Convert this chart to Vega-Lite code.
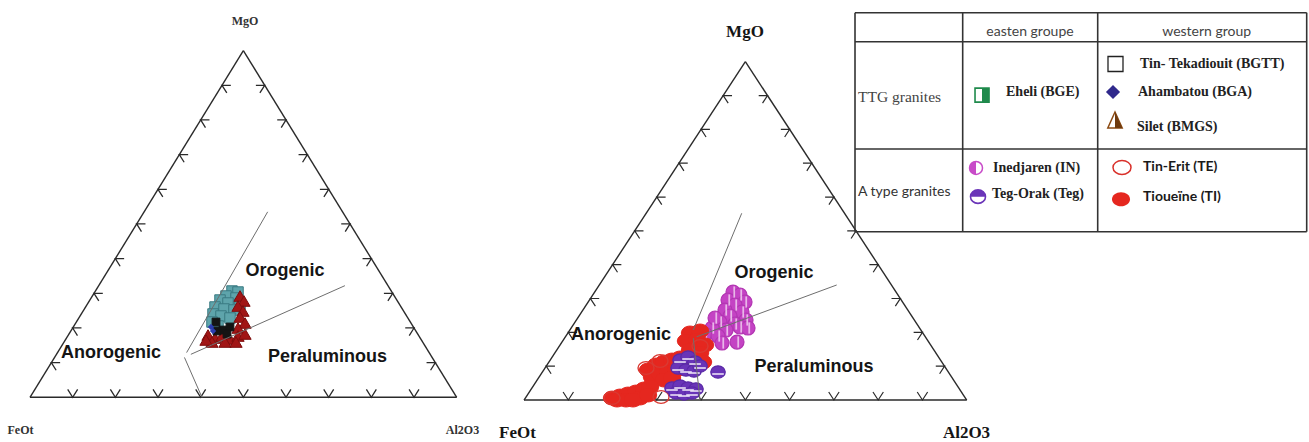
{
"$schema":"https://vega.github.io/schema/vega-lite/v6.json",
"width":1309,"height":442,"padding":0,
"autosize":{"type":"fit","contains":"padding"},
"background":"white",
"config":{"view":{"stroke":null}},
"datasets":{
"edges":[{"x":0,"y":0,"x2":1,"y2":0},{"x":0,"y":0,"x2":0.5,"y2":1},{"x":1,"y":0,"x2":0.5,"y2":1}],
"ticks":[
{"edge":"b","x":0.1,"y":0},{"edge":"b","x":0.2,"y":0},{"edge":"b","x":0.3,"y":0},{"edge":"b","x":0.4,"y":0},{"edge":"b","x":0.5,"y":0},{"edge":"b","x":0.6,"y":0},{"edge":"b","x":0.7,"y":0},{"edge":"b","x":0.8,"y":0},{"edge":"b","x":0.9,"y":0},
{"edge":"l","x":0.05,"y":0.1},{"edge":"l","x":0.1,"y":0.2},{"edge":"l","x":0.15,"y":0.3},{"edge":"l","x":0.2,"y":0.4},{"edge":"l","x":0.25,"y":0.5},{"edge":"l","x":0.3,"y":0.6},{"edge":"l","x":0.35,"y":0.7},{"edge":"l","x":0.4,"y":0.8},{"edge":"l","x":0.45,"y":0.9},
{"edge":"r","x":0.95,"y":0.1},{"edge":"r","x":0.9,"y":0.2},{"edge":"r","x":0.85,"y":0.3},{"edge":"r","x":0.8,"y":0.4},{"edge":"r","x":0.75,"y":0.5},{"edge":"r","x":0.7,"y":0.6},{"edge":"r","x":0.65,"y":0.7},{"edge":"r","x":0.6,"y":0.8},{"edge":"r","x":0.55,"y":0.9}],
"lbound":[{"x":0.367,"y":0.129,"x2":0.557,"y2":0.535},{"x":0.377,"y":0.124,"x2":0.738,"y2":0.322},{"x":0.362,"y":0.115,"x2":0.403,"y2":0.0}],
"rbound":[{"x":0.3824,"y":0.207,"x2":0.4918,"y2":0.552},{"x":0.390,"y":0.187,"x2":0.7063,"y2":0.340},{"x":0.3824,"y":0.183,"x2":0.3976,"y2":0.0}],
"llab":[
{"label":"Orogenic","x":0.5976,"y":0.3643,"kind":"region"},
{"label":"Anorogenic","x":0.1898,"y":0.1278,"kind":"region"},
{"label":"Peraluminous","x":0.6972,"y":0.1162,"kind":"region"},
{"label":"MgO","x":0.5039,"y":1.0854,"kind":"corner"},
{"label":"FeOt","x":-0.0223,"y":-0.0943,"kind":"corner"},
{"label":"Al2O3","x":1.0136,"y":-0.0943,"kind":"corner"}],
"rlab":[
{"label":"Orogenic","x":0.5647,"y":0.3745,"kind":"region"},
{"label":"Anorogenic","x":0.2191,"y":0.1921,"kind":"region"},
{"label":"Peraluminous","x":0.6551,"y":0.0975,"kind":"region"},
{"label":"MgO","x":0.4992,"y":1.0878,"kind":"corner"},
{"label":"FeOt","x":-0.0147,"y":-0.0976,"kind":"corner"},
{"label":"Al2O3","x":0.9995,"y":-0.0976,"kind":"corner"}],
"lpts":[
{"unit":"BGE","x":0.4734,"y":0.3066},{"unit":"BGE","x":0.4875,"y":0.3037},{"unit":"BGE","x":0.4593,"y":0.2922},{"unit":"BGE","x":0.4828,"y":0.2864},{"unit":"BGE","x":0.4453,"y":0.2806},{"unit":"BGE","x":0.4640,"y":0.2720},{"unit":"BGE","x":0.4922,"y":0.2691},{"unit":"BGE","x":0.4336,"y":0.2605},{"unit":"BGE","x":0.4547,"y":0.2547},{"unit":"BGE","x":0.4781,"y":0.2518},{"unit":"BGE","x":0.4289,"y":0.2403},{"unit":"BGE","x":0.4476,"y":0.2345},{"unit":"BGE","x":0.4687,"y":0.2287},{"unit":"BGE","x":0.4265,"y":0.2172},{"unit":"BGE","x":0.4406,"y":0.2056},
{"unit":"BMGS","x":0.4922,"y":0.2922},{"unit":"BMGS","x":0.5015,"y":0.2778},{"unit":"BMGS","x":0.4875,"y":0.2633},{"unit":"BMGS","x":0.4992,"y":0.2489},{"unit":"BMGS","x":0.4922,"y":0.2316},{"unit":"BMGS","x":0.5039,"y":0.2143},{"unit":"BMGS","x":0.4875,"y":0.1999},{"unit":"BMGS","x":0.4172,"y":0.1797},{"unit":"BMGS","x":0.4336,"y":0.1710},{"unit":"BMGS","x":0.4500,"y":0.1768},{"unit":"BMGS","x":0.4687,"y":0.1682},{"unit":"BMGS","x":0.4875,"y":0.1768},{"unit":"BMGS","x":0.5039,"y":0.1826},{"unit":"BMGS","x":0.4265,"y":0.1595},{"unit":"BMGS","x":0.4570,"y":0.1595},{"unit":"BMGS","x":0.4828,"y":0.1595},{"unit":"BMGS","x":0.4125,"y":0.1653},
{"unit":"BGTT","x":0.4359,"y":0.2172},{"unit":"BGTT","x":0.4523,"y":0.1941},{"unit":"BGTT","x":0.4687,"y":0.2028},{"unit":"BGTT","x":0.4382,"y":0.1912},{"unit":"BGTT","x":0.4617,"y":0.1826},
{"unit":"BGA","x":0.4242,"y":0.2028},{"unit":"BGA","x":0.4289,"y":0.1912}],
"rpts":[
{"unit":"IN","x":0.4721,"y":0.3192},{"unit":"IN","x":0.4879,"y":0.3104},{"unit":"IN","x":0.4608,"y":0.2956},{"unit":"IN","x":0.4992,"y":0.2897},{"unit":"IN","x":0.4766,"y":0.2808},{"unit":"IN","x":0.4540,"y":0.2660},{"unit":"IN","x":0.4924,"y":0.2601},{"unit":"IN","x":0.4653,"y":0.2483},{"unit":"IN","x":0.5015,"y":0.2365},{"unit":"IN","x":0.4427,"y":0.2306},{"unit":"IN","x":0.4766,"y":0.2247},{"unit":"IN","x":0.4247,"y":0.2128},{"unit":"IN","x":0.4563,"y":0.2069},{"unit":"IN","x":0.4879,"y":0.2158},{"unit":"IN","x":0.4089,"y":0.1951},{"unit":"IN","x":0.4382,"y":0.1892},{"unit":"IN","x":0.3976,"y":0.1774},{"unit":"IN","x":0.4473,"y":0.1685},{"unit":"IN","x":0.4811,"y":0.1714},{"unit":"IN","x":0.5060,"y":0.2128},{"unit":"IN","x":0.4315,"y":0.2424},
{"unit":"TI","x":0.3750,"y":0.1981},{"unit":"TI","x":0.3976,"y":0.2040},{"unit":"TI","x":0.3659,"y":0.1744},{"unit":"TI","x":0.3908,"y":0.1774},{"unit":"TI","x":0.4089,"y":0.1626},{"unit":"TI","x":0.3750,"y":0.1478},{"unit":"TI","x":0.3976,"y":0.1389},{"unit":"TI","x":0.3818,"y":0.1182},{"unit":"TI","x":0.4043,"y":0.1123},
{"unit":"TI","x":0.2801,"y":0.0887},{"unit":"TI","x":0.2982,"y":0.1035},{"unit":"TI","x":0.3162,"y":0.1123},{"unit":"TI","x":0.3343,"y":0.1182},{"unit":"TI","x":0.3524,"y":0.1242},{"unit":"TI","x":0.2891,"y":0.0680},{"unit":"TI","x":0.3072,"y":0.0769},{"unit":"TI","x":0.3253,"y":0.0828},{"unit":"TI","x":0.3434,"y":0.0887},{"unit":"TI","x":0.3614,"y":0.0946},{"unit":"TI","x":0.3162,"y":0.0591},{"unit":"TI","x":0.3343,"y":0.0650},
{"unit":"TI","x":0.1988,"y":0.0059},{"unit":"TI","x":0.2169,"y":0.0118},{"unit":"TI","x":0.2349,"y":0.0177},{"unit":"TI","x":0.2530,"y":0.0236},{"unit":"TI","x":0.2711,"y":0.0325},{"unit":"TI","x":0.2846,"y":0.0384},{"unit":"TI","x":0.2304,"y":0.0},{"unit":"TI","x":0.2620,"y":0.0059},{"unit":"TI","x":0.2101,"y":0.0},{"unit":"TI","x":0.2462,"y":0.0},{"unit":"TI","x":0.2801,"y":0.0148},
{"unit":"TE","x":0.2756,"y":0.0946},{"unit":"TE","x":0.3095,"y":0.0089},{"unit":"TE","x":0.1988,"y":0.0059},{"unit":"TE","x":0.3976,"y":0.1596},{"unit":"TE","x":0.3072,"y":0.1153},
{"unit":"Teg","x":0.3524,"y":0.1182},{"unit":"Teg","x":0.3705,"y":0.1271},{"unit":"Teg","x":0.3863,"y":0.1123},{"unit":"Teg","x":0.3479,"y":0.0946},{"unit":"Teg","x":0.3659,"y":0.0887},{"unit":"Teg","x":0.3840,"y":0.0857},{"unit":"Teg","x":0.3976,"y":0.1005},{"unit":"Teg","x":0.3343,"y":0.0355},{"unit":"Teg","x":0.3524,"y":0.0414},{"unit":"Teg","x":0.3705,"y":0.0355},{"unit":"Teg","x":0.3885,"y":0.0325},{"unit":"Teg","x":0.3434,"y":0.0207},{"unit":"Teg","x":0.3614,"y":0.0177},{"unit":"Teg","x":0.3795,"y":0.0207},{"unit":"Teg","x":0.4382,"y":0.0828}],
"tlines":[
{"x":0,"y":0,"x2":100,"y2":0},{"x":0,"y":100,"x2":100,"y2":100},{"x":0,"y":0,"x2":0,"y2":100},{"x":100,"y":0,"x2":100,"y2":100},
{"x":23.84,"y":0,"x2":23.84,"y2":100},{"x":53.73,"y":0,"x2":53.73,"y2":100},
{"x":0,"y":13.24,"x2":100,"y2":13.24},{"x":0,"y":62.24,"x2":100,"y2":62.24}],
"tlabels":[
{"label":"easten groupe","x":38.74,"y":8.68,"kind":"head"},
{"label":"western group","x":77.86,"y":8.68,"kind":"head"},
{"label":"TTG granites","x":0.66,"y":38.36,"kind":"serif"},
{"label":"A type granites","x":0.66,"y":82.0,"kind":"sans"}],
"legicons":[
{"unit":"BGE","x":28.12,"y":37.63},{"unit":"BGTT","x":57.67,"y":23.42},{"unit":"BGA","x":57.12,"y":36.2},{"unit":"BMGS","x":57.56,"y":49.0},
{"unit":"IN","x":26.79,"y":70.9},{"unit":"Teg","x":27.23,"y":84.0},{"unit":"TE","x":59.11,"y":70.68},{"unit":"TI","x":58.89,"y":85.2}],
"leglabels":[
{"unit":"BGE","label":"Eheli (BGE)","x":33.43,"y":36.07,"font":"serif"},
{"unit":"BGTT","label":"Tin- Tekadiouit (BGTT)","x":63.1,"y":23.5,"font":"serif"},
{"unit":"BGA","label":"Ahambatou (BGA)","x":62.65,"y":36.2,"font":"serif"},
{"unit":"BMGS","label":"Silet (BMGS)","x":62.43,"y":52.05,"font":"serif"},
{"unit":"IN","label":"Inedjaren (IN)","x":30.55,"y":70.78,"font":"serif"},
{"unit":"Teg","label":"Teg-Orak (Teg)","x":30.33,"y":82.92,"font":"serif"},
{"unit":"TE","label":"Tin-Erit (TE)","x":63.76,"y":70.46,"font":"sans"},
{"unit":"TI","label":"Tioueïne (TI)","x":63.76,"y":84.16,"font":"sans"}]
},
"resolve":{"scale":{"x":"independent","y":"independent"}},
"layer":[
{
"encoding":{
"x":{"field":"x","type":"quantitative","scale":{"domain":[-0.0703,2.9974],"nice":false,"zero":false},"axis":null},
"y":{"field":"y","type":"quantitative","scale":{"domain":[-0.1289,1.146],"nice":false,"zero":false},"axis":null}},
"layer":[
{"data":{"name":"edges"},"mark":{"type":"rule","color":"#2a2a2a","strokeWidth":1.4},"encoding":{"x2":{"field":"x2"},"y2":{"field":"y2"}}},
{"data":{"name":"ticks"},"transform":[{"filter":"datum.edge=='b'"}],"mark":{"type":"point","shape":"M-0.62,-1L0,0L0.62,-1","size":256,"filled":false,"stroke":"#2a2a2a","strokeWidth":1.3,"opacity":1}},
{"data":{"name":"ticks"},"transform":[{"filter":"datum.edge=='l'"}],"mark":{"type":"point","shape":"M1.1,0L0,0L0.6,0.95","size":256,"filled":false,"stroke":"#2a2a2a","strokeWidth":1.3,"opacity":1}},
{"data":{"name":"ticks"},"transform":[{"filter":"datum.edge=='r'"}],"mark":{"type":"point","shape":"M-1.1,0L0,0L-0.6,0.95","size":256,"filled":false,"stroke":"#2a2a2a","strokeWidth":1.3,"opacity":1}},
{"data":{"name":"lpts"},"transform":[{"filter":"datum.unit=='BGE'"}],"mark":{"type":"point","shape":"square","size":110,"filled":true,"fill":"#5ea4ab","stroke":"#3a7a82","strokeWidth":1,"opacity":1}},
{"data":{"name":"lpts"},"transform":[{"filter":"datum.unit=='BMGS'"}],"mark":{"type":"point","shape":"triangle-up","size":150,"filled":true,"fill":"#a11515","stroke":"#7e0d0d","strokeWidth":1,"opacity":1}},
{"data":{"name":"lpts"},"transform":[{"filter":"datum.unit=='BGTT'"}],"mark":{"type":"point","shape":"square","size":60,"filled":true,"fill":"#141414","stroke":"#141414","strokeWidth":1,"opacity":1}},
{"data":{"name":"lpts"},"transform":[{"filter":"datum.unit=='BGA'"}],"mark":{"type":"point","shape":"diamond","size":40,"filled":true,"fill":"#2b3cb0","opacity":1}},
{"data":{"name":"lbound"},"mark":{"type":"rule","color":"#6e6e6e","strokeWidth":1},"encoding":{"x2":{"field":"x2"},"y2":{"field":"y2"}}},
{"data":{"name":"llab"},"transform":[{"filter":"datum.kind=='region'"}],"mark":{"type":"text","font":"Liberation Sans","fontWeight":"bold","fontSize":18,"align":"center","baseline":"middle","color":"#151515"},"encoding":{"text":{"field":"label"}}},
{"data":{"name":"llab"},"transform":[{"filter":"datum.kind=='corner'"}],"mark":{"type":"text","font":"Liberation Serif","fontWeight":"bold","fontSize":12,"align":"center","baseline":"middle","color":"#333333"},"encoding":{"text":{"field":"label"}}}
]},
{
"encoding":{
"x":{"field":"x","type":"quantitative","scale":{"domain":[-1.1837,1.7732],"nice":false,"zero":false},"axis":null},
"y":{"field":"y","type":"quantitative","scale":{"domain":[-0.1241,1.1824],"nice":false,"zero":false},"axis":null}},
"layer":[
{"data":{"name":"edges"},"mark":{"type":"rule","color":"#2a2a2a","strokeWidth":1.4},"encoding":{"x2":{"field":"x2"},"y2":{"field":"y2"}}},
{"data":{"name":"ticks"},"transform":[{"filter":"datum.edge=='b'"}],"mark":{"type":"point","shape":"M-0.65,-1L0,0L0.65,-1","size":256,"filled":false,"stroke":"#2a2a2a","strokeWidth":1.2,"opacity":1}},
{"data":{"name":"ticks"},"transform":[{"filter":"datum.edge=='l'"}],"mark":{"type":"point","shape":"M1.1,0L0,0L0.62,0.95","size":256,"filled":false,"stroke":"#2a2a2a","strokeWidth":1.2,"opacity":1}},
{"data":{"name":"ticks"},"transform":[{"filter":"datum.edge=='r'"}],"mark":{"type":"point","shape":"M-1.1,0L0,0L-0.62,0.95","size":256,"filled":false,"stroke":"#2a2a2a","strokeWidth":1.2,"opacity":1}},
{"data":{"name":"rpts"},"transform":[{"filter":"datum.unit=='IN'"}],"mark":{"type":"point","shape":"M-1,0A1,1,0,1,1,1,0A1,1,0,1,1,-1,0Z","size":196,"filled":true,"fill":"#c443c4","stroke":"#b236b2","strokeWidth":1.2,"opacity":1}},
{"data":{"name":"rpts"},"transform":[{"filter":"datum.unit=='IN'"}],"mark":{"type":"point","shape":"M0.05,-0.8L0.3,-0.8L0.3,0.8L0.05,0.8Z","size":196,"filled":true,"fill":"#f3d6f3","opacity":0.8}},
{"data":{"name":"rpts"},"transform":[{"filter":"datum.unit=='TI'"}],"mark":{"type":"point","shape":"M-1,0A1,0.8,0,1,1,1,0A1,0.8,0,1,1,-1,0Z","size":300,"filled":true,"fill":"#e5271f","stroke":"#e5271f","strokeWidth":1,"opacity":1}},
{"data":{"name":"rpts"},"transform":[{"filter":"datum.unit=='TE'"}],"mark":{"type":"point","shape":"M-1,0A1,0.8,0,1,1,1,0A1,0.8,0,1,1,-1,0Z","size":256,"filled":false,"stroke":"#d93a33","strokeWidth":1.4,"opacity":1}},
{"data":{"name":"rpts"},"transform":[{"filter":"datum.unit=='Teg'"}],"mark":{"type":"point","shape":"M-1,0A1,0.85,0,1,1,1,0A1,0.85,0,1,1,-1,0Z","size":210,"filled":true,"fill":"#6934b8","stroke":"#5a2aa6","strokeWidth":1.2,"opacity":1}},
{"data":{"name":"rpts"},"transform":[{"filter":"datum.unit=='Teg'"}],"mark":{"type":"point","shape":"M-0.8,0.15L0.8,0.15L0.8,0.4L-0.8,0.4Z","size":210,"filled":true,"fill":"#eee6f8","opacity":0.85}},
{"data":{"name":"rbound"},"mark":{"type":"rule","color":"#6e6e6e","strokeWidth":1},"encoding":{"x2":{"field":"x2"},"y2":{"field":"y2"}}},
{"data":{"name":"rlab"},"transform":[{"filter":"datum.kind=='region'"}],"mark":{"type":"text","font":"Liberation Sans","fontWeight":"bold","fontSize":18,"align":"center","baseline":"middle","color":"#151515"},"encoding":{"text":{"field":"label"}}},
{"data":{"name":"rlab"},"transform":[{"filter":"datum.kind=='corner'"}],"mark":{"type":"text","font":"Liberation Serif","fontWeight":"bold","fontSize":17,"align":"center","baseline":"middle","color":"#151515"},"encoding":{"text":{"field":"label"}}}
]},
{
"encoding":{
"x":{"field":"x","type":"quantitative","scale":{"domain":[-189.29,100.51],"nice":false,"zero":false},"axis":null},
"y":{"field":"y","type":"quantitative","scale":{"domain":[-5.8,196.03],"nice":false,"zero":false,"reverse":true},"axis":null}},
"layer":[
{"data":{"name":"tlines"},"mark":{"type":"rule","color":"#333333","strokeWidth":1.6},"encoding":{"x2":{"field":"x2"},"y2":{"field":"y2"}}},
{"data":{"name":"tlabels"},"transform":[{"filter":"datum.kind=='head'"}],"mark":{"type":"text","font":"Lato","fontSize":14,"align":"center","baseline":"middle","color":"#444444"},"encoding":{"text":{"field":"label"}}},
{"data":{"name":"tlabels"},"transform":[{"filter":"datum.kind=='serif'"}],"mark":{"type":"text","font":"Liberation Serif","fontSize":15.5,"align":"left","baseline":"middle","color":"#444444"},"encoding":{"text":{"field":"label"}}},
{"data":{"name":"tlabels"},"transform":[{"filter":"datum.kind=='sans'"}],"mark":{"type":"text","font":"Lato","fontSize":14,"align":"left","baseline":"middle","color":"#333333"},"encoding":{"text":{"field":"label"}}},
{"data":{"name":"leglabels"},"transform":[{"filter":"datum.font=='serif'"}],"mark":{"type":"text","font":"Liberation Serif","fontWeight":"bold","fontSize":14,"align":"left","baseline":"middle","color":"#222222"},"encoding":{"text":{"field":"label"}}},
{"data":{"name":"leglabels"},"transform":[{"filter":"datum.font=='sans'"}],"mark":{"type":"text","font":"Lato","fontWeight":"bold","fontSize":14,"align":"left","baseline":"middle","color":"#1a1a1a"},"encoding":{"text":{"field":"label"}}},
{"data":{"name":"legicons"},"transform":[{"filter":"datum.unit=='BGE'"}],"mark":{"type":"point","shape":"square","size":196,"filled":true,"fill":"#ffffff","stroke":"#1f8a4c","strokeWidth":1.6,"opacity":1}},
{"data":{"name":"legicons"},"transform":[{"filter":"datum.unit=='BGE'"}],"mark":{"type":"point","shape":"M0,-1L1,-1L1,1L0,1Z","size":196,"filled":true,"fill":"#1f8a4c","opacity":1}},
{"data":{"name":"legicons"},"transform":[{"filter":"datum.unit=='BGTT'"}],"mark":{"type":"point","shape":"square","size":225,"filled":true,"fill":"#ffffff","stroke":"#222222","strokeWidth":1.3,"opacity":1}},
{"data":{"name":"legicons"},"transform":[{"filter":"datum.unit=='BGA'"}],"mark":{"type":"point","shape":"diamond","size":200,"filled":true,"fill":"#30298c","opacity":1}},
{"data":{"name":"legicons"},"transform":[{"filter":"datum.unit=='BMGS'"}],"mark":{"type":"point","shape":"M0,-1L0.9,1L-0.9,1Z","size":256,"filled":true,"fill":"#ffffff","stroke":"#8b4a12","strokeWidth":1.5,"opacity":1}},
{"data":{"name":"legicons"},"transform":[{"filter":"datum.unit=='BMGS'"}],"mark":{"type":"point","shape":"M0,-1L0.9,1L0,1Z","size":256,"filled":true,"fill":"#6e3a0e","opacity":1}},
{"data":{"name":"legicons"},"transform":[{"filter":"datum.unit=='IN'"}],"mark":{"type":"point","shape":"M-1,0A1,1,0,1,1,1,0A1,1,0,1,1,-1,0Z","size":169,"filled":true,"fill":"#ffffff","stroke":"#c84bc8","strokeWidth":1.5,"opacity":1}},
{"data":{"name":"legicons"},"transform":[{"filter":"datum.unit=='IN'"}],"mark":{"type":"point","shape":"M0,-1A1,1,0,0,0,0,1Z","size":169,"filled":true,"fill":"#c84bc8","opacity":1}},
{"data":{"name":"legicons"},"transform":[{"filter":"datum.unit=='Teg'"}],"mark":{"type":"point","shape":"M-1,0A1,0.9,0,1,1,1,0A1,0.9,0,1,1,-1,0Z","size":225,"filled":true,"fill":"#ffffff","stroke":"#6a35b8","strokeWidth":1.6,"opacity":1}},
{"data":{"name":"legicons"},"transform":[{"filter":"datum.unit=='Teg'"}],"mark":{"type":"point","shape":"M-1,0A1,0.9,0,0,1,1,0Z","size":225,"filled":true,"fill":"#6a35b8","opacity":1}},
{"data":{"name":"legicons"},"transform":[{"filter":"datum.unit=='TE'"}],"mark":{"type":"point","shape":"M-1,0A1,0.78,0,1,1,1,0A1,0.78,0,1,1,-1,0Z","size":324,"filled":false,"stroke":"#d9302a","strokeWidth":1.5,"opacity":1}},
{"data":{"name":"legicons"},"transform":[{"filter":"datum.unit=='TI'"}],"mark":{"type":"point","shape":"M-1,0A1,0.78,0,1,1,1,0A1,0.78,0,1,1,-1,0Z","size":324,"filled":true,"fill":"#e5271f","opacity":1}}
]}
]
}
